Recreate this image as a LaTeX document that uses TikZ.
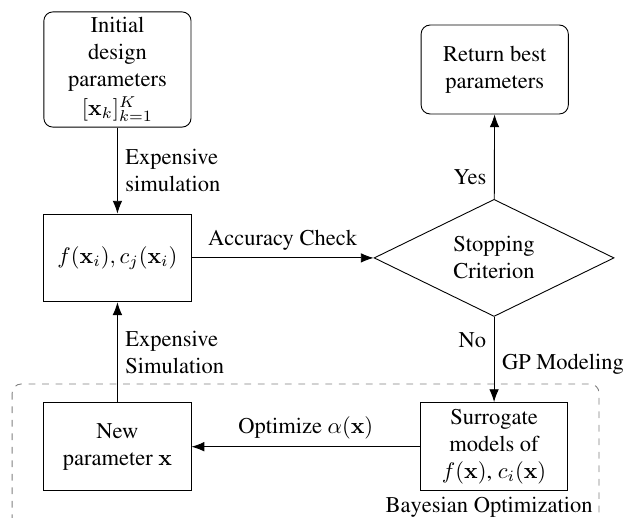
\documentclass[tikz,border=0pt]{standalone}
\usepackage[T1]{fontenc}
\usepackage{times}
\usetikzlibrary{positioning,arrows.meta,shapes.geometric}
\tikzset{
  blk/.style={draw, align=center, minimum width=2.3cm, minimum height=1.37cm,
              inner sep=3pt},
  rblk/.style={blk, rounded corners},
  decide/.style={draw, diamond, aspect=2, align=center, minimum width=3.75cm,
                 minimum height=1.83cm, inner sep=1pt},
  flow/.style={-{Latex[length=2mm]}},
  bogroup/.style={draw=gray, dashed, rounded corners},
}

\begin{document}
\begin{tikzpicture}
    \useasboundingbox (0,0) rectangle (9.75,-8.09);
    % Bayesian optimization loop
    \draw[bogroup] (0.19,-6.0) rectangle (9.36,-8.35);
    \node[anchor=east, inner sep=1pt] (bolbl) at (9.3,-7.92) {Bayesian Optimization};

    \node[rblk, minimum height=1.8cm, inner sep=1pt] (init) at (1.835,-1.086)
      {Initial\\design\\parameters\\[1pt]$[\mathbf{x}_k]_{k=1}^K$};
    \node[blk] (eval) at (1.835,-4.03) {$f(\mathbf{x}_i), c_j(\mathbf{x}_i)$};
    \node[blk] (newx) at (1.835,-6.98) {New\\parameter $\mathbf{x}$};
    \node[blk] (surr) at (7.72,-6.98)
      {Surrogate\\models of\\$f(\mathbf{x})$, $c_i(\mathbf{x})$};
    \node[rblk, minimum height=1.39cm] (best) at (7.73,-1.086)
      {Return best\\parameters};
    \node[decide] (stop) at (7.72,-4.03) {Stopping\\Criterion};

    \draw[flow] (init) -- node[right, align=left] {Expensive\\simulation} (eval);
    \draw[flow] (eval) -- node[above] {Accuracy Check} (stop);
    \draw[flow] (stop) -- node[pos=0.26, left] {Yes} (best);
    \draw[flow] (stop) -- node[pos=0.27, left] {No}
      node[pos=0.56, right] {GP Modeling} (surr);
    \draw[flow] (surr) -- node[above] {Optimize $\alpha(\mathbf{x})$} (newx);
    \draw[flow] (newx) -- node[right, align=left] {Expensive\\Simulation} (eval);
\end{tikzpicture}
\end{document}
